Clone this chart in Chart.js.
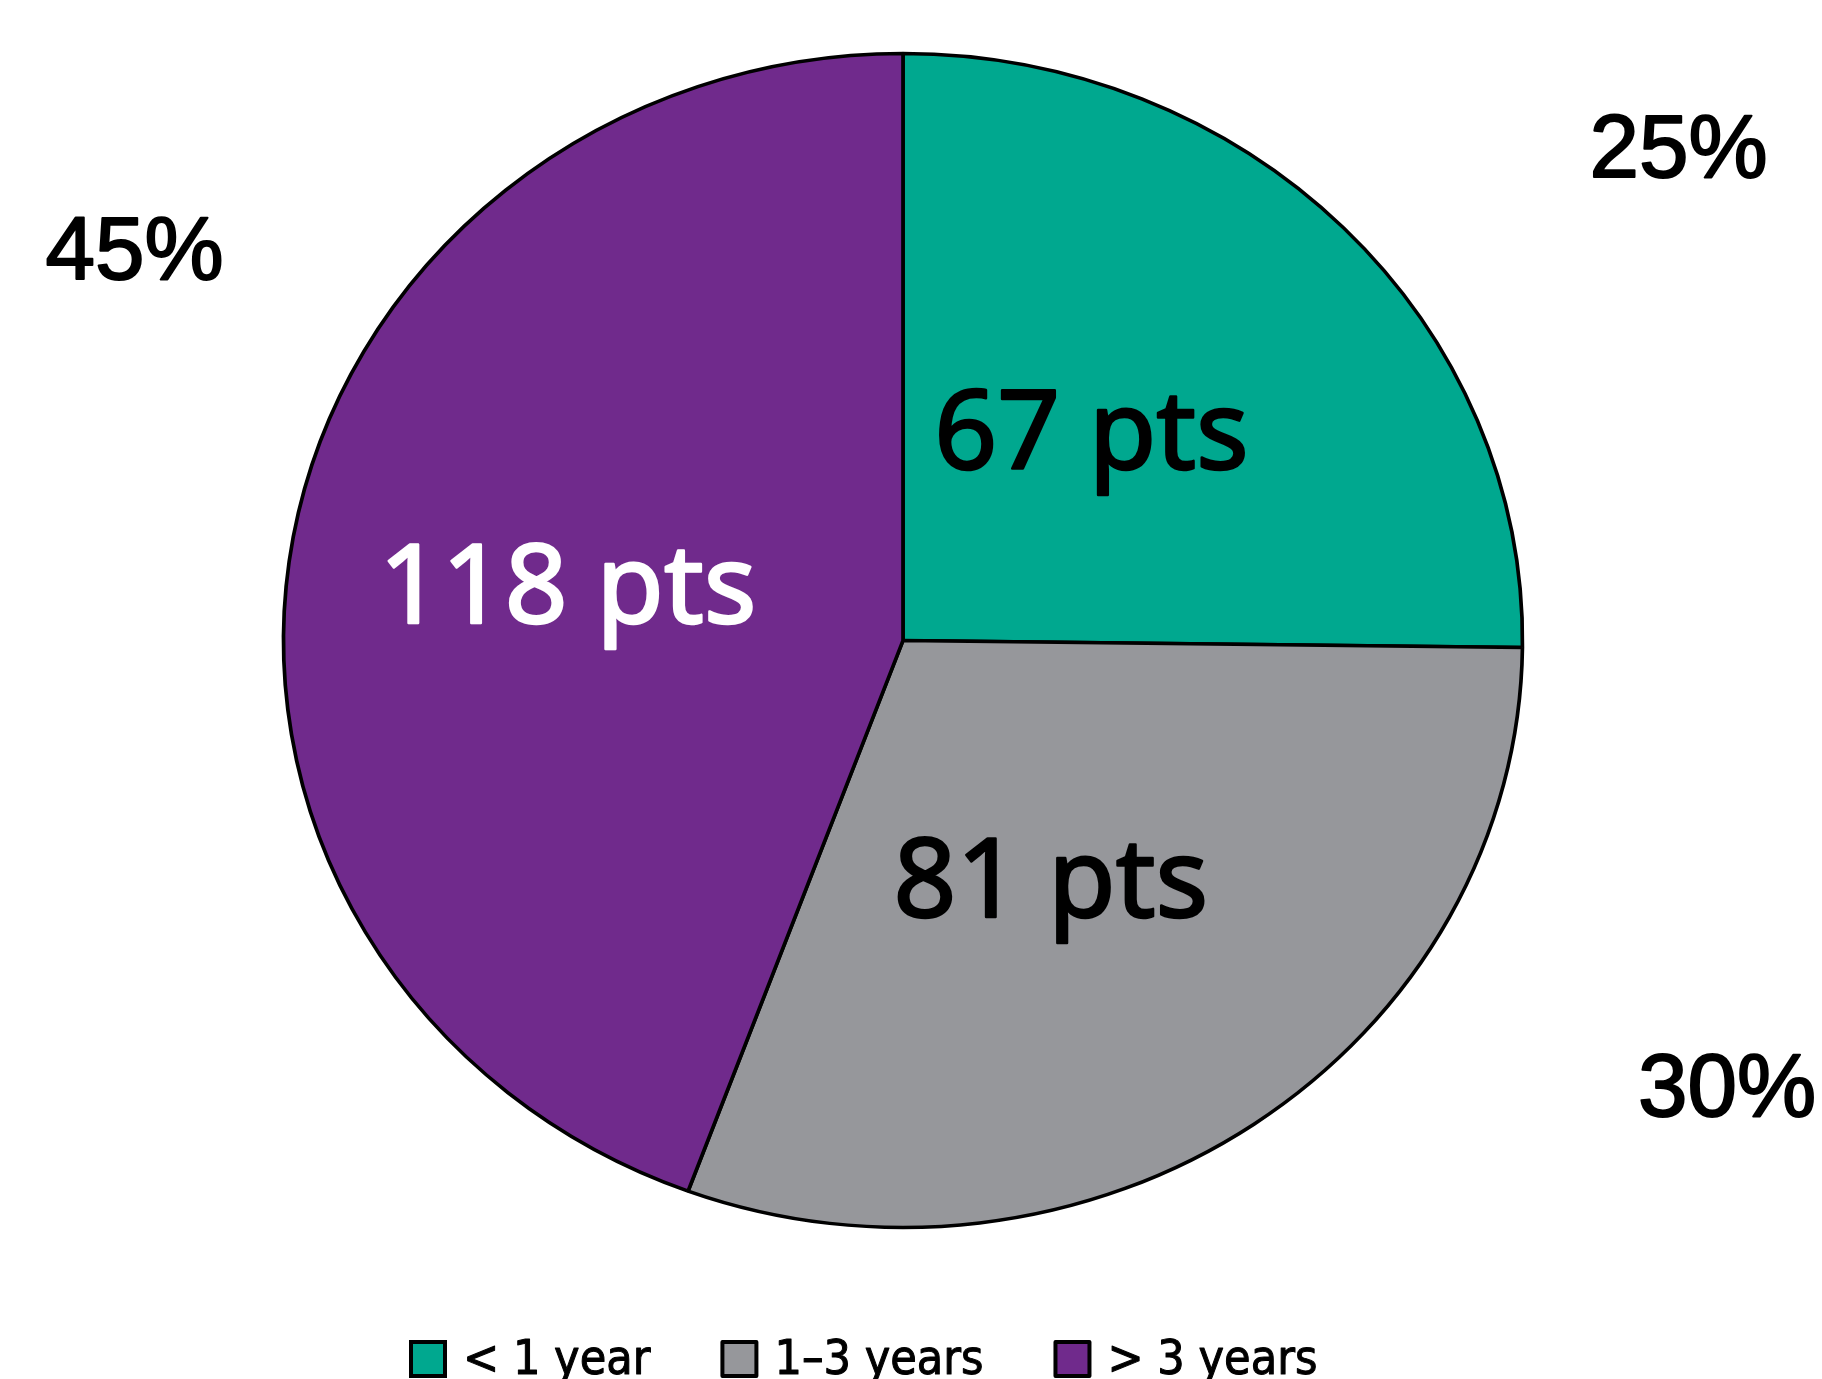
<!DOCTYPE html>
<html>
<head>
<meta charset="utf-8">
<title>Patients by time</title>
<script src="https://cdn.jsdelivr.net/npm/chart.js@4.4.1/dist/chart.umd.min.js"></script>
<style>
  html, body { margin: 0; padding: 0; background: #fff; }
  canvas { display: block; }
</style>
</head>
<body>
<canvas id="pie" width="1822" height="1379"></canvas>
<script>
// data
var categories = ["< 1 year", "1\u20133 years", "> 3 years"];
var patients = [67, 81, 118];
var shareLabels = ["25%", "30%", "45%"];

var colors = ["#00a88f", "#96979b", "#702a8c"];
var textColors = ["#000", "#000", "#fff"];

// pie is drawn a bit wider than tall in the original
var stretchX = 620 / 587.5;

// where the texts sit, relative to the slice / centre (polar, in radii)
var innerPlace = [{ shift: -5, r: 0.47 }, { shift: 4, r: 0.47 }, { shift: 0, r: 0.55 }];
var outerPlace = [{ deg: -34, r: 1.51 }, { deg: 29.6, r: 1.53 }, { deg: 208.4, r: 1.41 }];

var ptsFont = "110px 'Noto Sans'";
var shareFont = "89px 'Liberation Sans'";
var legendFont = "48px 'DejaVu Sans Condensed'";

// fake a medium weight with a thin stroke
function heavyText(ctx, txt, x, y, col, w) {
    ctx.fillStyle = col;
    ctx.strokeStyle = col;
    ctx.lineWidth = w;
    ctx.lineJoin = "round";
    ctx.strokeText(txt, x, y);
    ctx.fillText(txt, x, y);
}

var ellipse = {
    id: "ellipse",
    beforeDatasetsDraw: function(chart) {
        var a = chart.getDatasetMeta(0).data[0];
        var ctx = chart.ctx;
        ctx.save();
        ctx.translate(a.x, a.y);
        ctx.scale(stretchX, 1);
        ctx.translate(-a.x, -a.y);
    },
    afterDatasetsDraw: function(chart) {
        var ctx = chart.ctx;
        ctx.restore();
        var arcs = chart.getDatasetMeta(0).data;
        ctx.save();
        ctx.textAlign = "center";
        ctx.textBaseline = "alphabetic";
        arcs.forEach(function(a, i) {
            var mid = (a.startAngle + a.endAngle) / 2 + innerPlace[i].shift * Math.PI / 180;
            var r = a.outerRadius * innerPlace[i].r;
            var x = a.x + Math.cos(mid) * r * stretchX;
            var y = a.y + Math.sin(mid) * r;
            ctx.font = ptsFont;
            heavyText(ctx, patients[i] + " pts", x, y + 110 * 0.714 / 2, textColors[i], 2.5);

            var ang = outerPlace[i].deg * Math.PI / 180;
            var ro = a.outerRadius * outerPlace[i].r;
            ctx.font = shareFont;
            heavyText(ctx, shareLabels[i], a.x + Math.cos(ang) * ro * stretchX,
                a.y + Math.sin(ang) * ro + 89 * 0.716 / 2, "#000", 2);
        });
        ctx.restore();
    }
};

var bottomLegend = {
    id: "bottomLegend",
    afterDraw: function(chart) {
        var ctx = chart.ctx;
        var x = 411, box = 34, top = 1342, base = 1374;
        ctx.save();
        ctx.font = legendFont;
        ctx.textBaseline = "alphabetic";
        ctx.textAlign = "left";
        categories.forEach(function(c, i) {
            ctx.fillStyle = colors[i];
            ctx.fillRect(x, top, box, box);
            ctx.lineWidth = 4;
            ctx.strokeStyle = "#000";
            ctx.strokeRect(x, top, box, box);
            heavyText(ctx, c, x + box + 18, base, "#000", 1);
            x += box + 18 + ctx.measureText(c).width + 72;
        });
        ctx.restore();
    }
};

new Chart(document.getElementById("pie").getContext("2d"), {
    type: "pie",
    data: {
        labels: categories,
        datasets: [{
            data: patients,
            backgroundColor: colors,
            borderColor: "#000",
            borderWidth: 3.5,
        }],
    },
    options: {
        responsive: false,
        animation: false,
        layout: { padding: { top: 51.75, bottom: 149.75, left: 303, right: 319 } },
        plugins: { legend: { display: false }, tooltip: { enabled: false } },
    },
    plugins: [ellipse, bottomLegend],
});
</script>
</body>
</html>
